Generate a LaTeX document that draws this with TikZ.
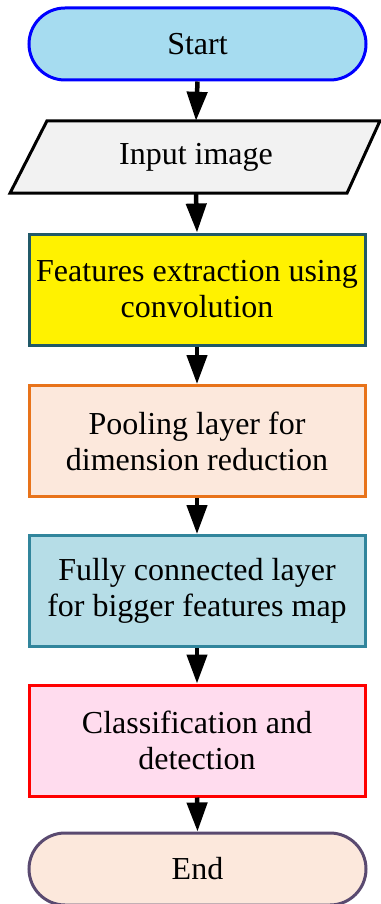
\documentclass[tikz,border=0pt]{standalone}
\usepackage{fontspec}
\setmainfont{Liberation Serif}
\usetikzlibrary{arrows.meta}
\definecolor{startfill}{HTML}{A6DCF0}
\definecolor{inputfill}{HTML}{F2F2F2}
\definecolor{featborder}{HTML}{215968}
\definecolor{poolfill}{HTML}{FCE8DC}
\definecolor{poolborder}{HTML}{E8731A}
\definecolor{fcfill}{HTML}{B6DDE7}
\definecolor{fcborder}{HTML}{31859C}
\definecolor{clsfill}{HTML}{FFDCEE}
\definecolor{endborder}{HTML}{5A4A70}
\begin{document}
\begin{tikzpicture}[x=1pt,y=-1pt,
  every node/.style={font=\fontsize{32}{36}\selectfont, align=center, inner sep=0pt},
  terminal/.style={draw, line width=3pt, rounded corners=36pt, minimum width=337pt, minimum height=72pt},
  procbox/.style={draw, line width=3pt, minimum width=336pt, minimum height=111pt},
  flow/.style={line width=4.5pt, -{Triangle[width=20pt,length=29pt]}}
]
\useasboundingbox (0,0) rectangle (380,904);
\node[terminal, draw=blue, fill=startfill] (start) at (197.5,44) {Start};
\node[minimum width=300pt, minimum height=72pt] (in) at (196,157) {Input image};
\draw[line width=3pt, fill=inputfill, line join=miter]
  (in.north) ++(-149,0) -- (in.north) -- ++(184,0) -- ([xshift=151pt]in.south) -- ([xshift=-186pt]in.south) -- cycle;
\node at (in) {Input image};
\node[procbox, draw=featborder, fill=yellow] (feat) at (197,289.5) {Features extraction using\\convolution};
\node[procbox, draw=poolborder, fill=poolfill] (pool) at (197,441) {Pooling layer for\\dimension reduction};
\node[procbox, draw=fcborder, fill=fcfill] (fc) at (197,591) {Fully connected layer\\for bigger features map};
\node[procbox, draw=red, fill=clsfill] (cls) at (197,740.5) {Classification and\\detection};
\node[terminal, draw=endborder, fill=poolfill] (end) at (197.5,869) {End};
\draw[flow] (start.south) -- (in.north);
\draw[flow] (in.south) -- (feat.north);
\draw[flow] (feat.south) -- (pool.north);
\draw[flow] (pool.south) -- (fc.north);
\draw[flow] (fc.south) -- (cls.north);
\draw[flow] (cls.south) -- (end.north);
\end{tikzpicture}
\end{document}
